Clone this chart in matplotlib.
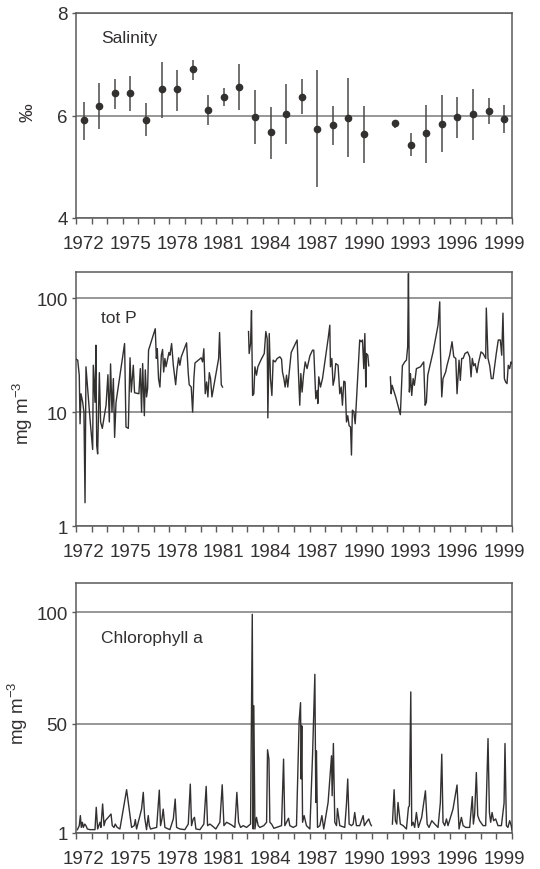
import numpy as np
import matplotlib
matplotlib.use("Agg")
import matplotlib.pyplot as plt
from matplotlib.ticker import FixedLocator, NullFormatter, FixedFormatter, NullLocator

plt.rcParams['font.family'] = ['Liberation Sans', 'DejaVu Sans']
plt.rcParams['mathtext.fontset'] = 'custom'
plt.rcParams['mathtext.rm'] = 'Liberation Sans'
plt.rcParams['mathtext.it'] = 'Liberation Sans'
plt.rcParams['mathtext.bf'] = 'Liberation Sans'

# ---------------- data ----------------
sal_years = [1972, 1973, 1974, 1975, 1976, 1977, 1978, 1979, 1980, 1981, 1982, 1983, 1984, 1985,
             1986, 1987, 1988, 1989, 1990, 1992, 1993, 1994, 1995, 1996, 1997, 1998, 1999]
sal_mean = [5.92, 6.19, 6.43, 6.43, 5.92, 6.51, 6.51, 6.90, 6.11, 6.37, 6.56, 5.97, 5.68, 6.03,
            6.37, 5.73, 5.82, 5.96, 5.64, 5.85, 5.43, 5.66, 5.84, 5.97, 6.03, 6.09, 5.94]
sal_high = [6.27, 6.64, 6.71, 6.77, 6.24, 7.04, 6.89, 7.08, 6.40, 6.53, 7.00, 6.50, 6.17, 6.62,
            6.71, 6.89, 6.19, 6.73, 6.19, 5.92, 5.66, 6.21, 6.40, 6.36, 6.52, 6.34, 6.21]
sal_low = [5.53, 5.73, 6.13, 6.08, 5.60, 5.96, 6.08, 6.69, 5.81, 6.19, 6.10, 5.45, 5.16, 5.45,
           6.03, 4.60, 5.42, 5.19, 5.07, 5.75, 5.21, 5.08, 5.29, 5.57, 5.53, 5.84, 5.65]

nan = np.nan
totp_time = [
    1972.00, 1972.11, 1972.21, 1972.26, 1972.32, 1972.43, 1972.51, 1972.58, 1972.64, 1972.75,
    1972.90, 1973.07, 1973.11, 1973.22, 1973.28, 1973.33, 1973.39, 1973.50, 1973.58, 1973.69,
    1973.93, 1974.05, 1974.14, 1974.22, 1974.31, 1974.40, 1974.48, 1974.57, 1975.12, 1975.21,
    1975.36, 1975.47, 1975.55, 1975.68, 1975.76, 1976.04, 1976.13, 1976.21, 1976.28, 1976.39,
    1976.45, 1976.53, 1976.60, 1976.66, 1977.09, 1977.16, 1977.22, 1977.30, 1977.39, 1977.48,
    1977.56, 1977.63, 1977.71, 1977.78, 1977.97, 1978.03, 1978.14, 1978.25, 1978.40, 1978.48,
    1978.59, 1978.67, 1978.76, 1978.84, 1979.10, 1979.21, 1979.27, 1979.40, 1979.49, 1979.57,
    1979.64, 1979.91, 1980.04, 1980.13, 1980.21, 1980.30, 1980.39, 1980.47, 1980.56, 1980.64,
    1980.73, 1981.16, 1981.22, 1981.33, 1981.41, 1982.00,
    1983.08, 1983.12, 1983.21, 1983.27, 1983.34, 1983.42, 1983.49, 1983.59, 1983.68, 1983.87,
    1984.09, 1984.19, 1984.28, 1984.32, 1984.41, 1984.49, 1984.58, 1984.66, 1984.79, 1984.92,
    1985.09, 1985.20, 1985.26, 1985.35, 1985.43, 1985.52, 1985.60, 1985.82, 1986.20, 1986.27,
    1986.37, 1986.44, 1986.52, 1986.61, 1986.72, 1986.84, 1987.02, 1987.19, 1987.27, 1987.32,
    1987.40, 1987.49, 1987.53, 1987.59, 1987.70, 1987.83, 1988.19, 1988.30, 1988.34, 1988.43,
    1988.51, 1988.60, 1988.68, 1988.83, 1988.94, 1989.03, 1989.11, 1989.20, 1989.28, 1989.37,
    1989.45, 1989.54, 1989.63, 1989.69, 1989.75, 1989.84, 1989.93, 1990.22, 1990.31, 1990.40,
    1990.48, 1990.55, 1990.61, 1990.65, 1990.74, 1990.80, 1991.50,
    1992.19, 1992.24, 1992.30, 1992.53, 1992.83, 1992.96, 1993.11, 1993.22, 1993.30, 1993.35,
    1993.41, 1993.48, 1993.56, 1993.65, 1993.73, 1993.86, 1994.12, 1994.33, 1994.42, 1994.50,
    1994.59, 1994.93, 1995.25, 1995.36, 1995.40, 1995.49, 1995.57, 1995.74, 1995.83, 1996.00,
    1996.15, 1996.26, 1996.39, 1996.47, 1996.60, 1996.68, 1996.77, 1996.86, 1996.98, 1997.15,
    1997.28, 1997.37, 1997.45, 1997.54, 1997.63, 1997.75, 1997.84, 1998.01, 1998.14, 1998.31,
    1998.35, 1998.46, 1998.57, 1998.67, 1998.78, 1998.99, 1999.12, 1999.25, 1999.34, 1999.42,
    1999.51, 1999.59, 1999.68, 1999.76, 1999.85, 1999.94, 2000.00]
totp_value = [
    29.2, 28.6, 21.1, 7.9, 14.5, 12.2, 10.0, 1.6, 25.0, 16.1,
    8.7, 4.7, 25.8, 12.2, 38.7, 5.1, 4.3, 22.2, 8.2, 7.2,
    11.5, 21.3, 8.2, 26.5, 10.0, 19.7, 6.0, 12.2, 40.0, 7.4,
    7.2, 30.0, 15.0, 25.8, 14.8, 14.5, 24.1, 10.0, 26.7, 9.3,
    23.5, 13.6, 16.1, 35.0, 54.0, 29.6, 36.0, 19.7, 16.6, 31.6,
    35.5, 22.5, 29.6, 25.0, 33.4, 31.6, 40.0, 25.8, 17.4, 23.3,
    30.0, 25.8, 30.6, 32.7, 40.6, 21.8, 17.4, 16.6, 10.0, 19.7,
    27.0, 29.0, 30.0, 27.6, 36.0, 14.5, 18.4, 13.6, 22.2, 19.7,
    13.6, 29.6, 50.0, 17.4, 16.6, nan,
    51.0, 32.7, 40.0, 78.0, 14.0, 14.5, 25.0, 21.1, 25.0, 28.6,
    32.7, 51.0, 44.0, 8.9, 49.0, 19.7, 14.0, 28.6, 27.6, 29.6,
    30.6, 29.2, 22.5, 19.7, 16.6, 21.1, 16.6, 33.4, 43.0, 25.0,
    11.5, 21.8, 15.0, 21.1, 27.6, 24.1, 31.2, 35.0, 35.0, 24.1,
    13.1, 15.5, 11.9, 20.4, 16.6, 19.7, 44.0, 58.0, 25.0, 29.6,
    17.2, 19.7, 26.7, 25.8, 14.5, 16.6, 11.5, 18.7, 18.4, 8.2,
    9.3, 7.6, 7.4, 4.2, 10.4, 10.1, 7.9, 43.0, 41.5, 43.0,
    24.1, 49.0, 16.6, 32.7, 31.6, 25.5, nan,
    20.4, 14.5, 17.2, 13.6, 9.5, 25.5, 27.6, 28.6, 37.5, 165.0,
    15.0, 21.8, 14.0, 19.7, 17.2, 24.1, 25.0, 27.6, 11.5, 12.2,
    21.1, 33.8, 58.0, 93.0, 36.0, 13.6, 19.7, 22.5, 25.8, 31.6,
    41.5, 30.6, 29.6, 14.5, 28.6, 19.0, 29.6, 29.6, 32.7, 33.8,
    30.6, 20.4, 29.6, 25.5, 26.7, 22.2, 26.7, 33.8, 32.7, 29.6,
    82.0, 29.6, 25.5, 19.7, 19.7, 32.7, 43.0, 43.0, 31.6, 74.0,
    19.7, 18.4, 17.8, 25.8, 24.1, 27.6, 26.7]

chl_time = [
    1972.09, 1972.21, 1972.28, 1972.34, 1972.41, 1972.47, 1972.56, 1972.64, 1972.73, 1972.90,
    1973.22, 1973.30, 1973.39, 1973.54, 1973.60, 1973.71, 1973.80, 1973.88, 1974.07, 1974.25,
    1974.33, 1974.44, 1974.52, 1974.65, 1974.82, 1975.25, 1975.57, 1975.74, 1975.81, 1975.89,
    1976.21, 1976.32, 1976.41, 1976.53, 1976.64, 1976.71, 1976.79, 1977.18, 1977.35, 1977.43,
    1977.52, 1977.60, 1977.71, 1978.03, 1978.25, 1978.37, 1978.46, 1978.67, 1978.99, 1979.21,
    1979.34, 1979.42, 1979.53, 1979.61, 1979.70, 1979.96, 1980.21, 1980.36, 1980.45, 1980.60,
    1980.73, 1980.98, 1981.24, 1981.39, 1981.50, 1981.67, 1981.99, 1982.20, 1982.33, 1982.44,
    1982.57, 1982.74, 1982.95, 1983.21, 1983.32, 1983.38, 1983.42, 1983.49, 1983.59, 1983.70,
    1983.81, 1984.06, 1984.24, 1984.30, 1984.39, 1984.45, 1984.56, 1984.71, 1984.88, 1985.20,
    1985.33, 1985.41, 1985.52, 1985.65, 1985.73, 1985.95, 1986.16, 1986.33, 1986.42, 1986.46,
    1986.50, 1986.55, 1986.65, 1986.80, 1987.02, 1987.19, 1987.34, 1987.40, 1987.44, 1987.51,
    1987.66, 1987.79, 1987.91, 1988.19, 1988.41, 1988.45, 1988.53, 1988.62, 1988.73, 1988.79,
    1988.94, 1989.26, 1989.37, 1989.45, 1989.54, 1989.69, 1989.80, 1989.90, 1990.01, 1990.22,
    1990.44, 1990.52, 1990.65, 1990.80, 1990.91, 1990.97, 1991.60,
    1992.32, 1992.43, 1992.51, 1992.60, 1992.68, 1992.77, 1992.83, 1993.01, 1993.22, 1993.35,
    1993.41, 1993.50, 1993.56, 1993.65, 1993.75, 1993.86, 1993.99, 1994.20, 1994.44, 1994.55,
    1994.67, 1994.85, 1995.04, 1995.25, 1995.40, 1995.49, 1995.57, 1995.68, 1995.79, 1995.89,
    1996.21, 1996.47, 1996.60, 1996.75, 1996.86, 1997.03, 1997.28, 1997.45, 1997.52, 1997.60,
    1997.71, 1997.80, 1997.92, 1998.14, 1998.31, 1998.46, 1998.55, 1998.63, 1998.72, 1998.82,
    1998.95, 1999.10, 1999.32, 1999.49, 1999.55, 1999.64, 1999.74, 1999.85, 1999.94, 2000.00]
chl_value = [
    2.5, 4.3, 8.8, 3.5, 5.8, 3.5, 5.0, 4.3, 2.8, 2.5,
    2.5, 12.5, 2.8, 5.8, 3.5, 14.0, 4.3, 6.5, 8.0, 9.5,
    4.3, 3.5, 5.0, 3.5, 2.8, 20.4, 3.5, 4.3, 7.0, 2.8,
    11.7, 19.2, 8.0, 2.5, 8.8, 4.3, 2.8, 3.5, 20.2, 4.3,
    7.3, 11.7, 3.5, 2.5, 7.3, 16.2, 3.5, 2.8, 2.5, 5.0,
    22.9, 4.3, 7.3, 8.0, 2.8, 2.5, 5.0, 21.9, 4.3, 5.0,
    4.3, 2.8, 5.8, 22.6, 4.3, 5.8, 4.6, 3.5, 19.2, 5.8,
    3.5, 4.3, 3.5, 5.0, 99.0, 2.8, 58.0, 2.8, 8.0, 4.3,
    3.5, 4.3, 5.8, 38.3, 34.1, 5.8, 5.0, 3.1, 3.5, 4.3,
    34.1, 4.3, 5.8, 7.6, 4.3, 3.5, 4.3, 51.2, 59.4, 25.2,
    49.0, 5.8, 8.8, 4.3, 2.8, 35.6, 72.1, 14.7, 37.8, 3.5,
    4.3, 8.8, 2.8, 14.7, 35.6, 17.7, 41.1, 5.8, 4.3, 12.0,
    4.3, 3.5, 14.0, 25.2, 5.0, 4.3, 5.0, 10.2, 4.3, 4.3,
    8.8, 4.3, 5.8, 7.3, 5.0, 4.3, nan,
    5.0, 20.4, 6.5, 5.0, 14.7, 8.8, 5.0, 4.3, 2.8, 12.5,
    13.2, 64.2, 4.3, 5.8, 3.5, 10.2, 3.5, 8.0, 19.9, 5.0,
    3.5, 6.5, 5.0, 3.5, 14.7, 36.3, 5.8, 4.3, 7.3, 4.3,
    11.7, 22.5, 2.8, 8.0, 4.3, 3.5, 3.5, 17.3, 5.0, 9.5,
    28.1, 8.8, 6.5, 4.3, 4.3, 43.3, 10.2, 5.8, 10.2, 6.5,
    7.3, 4.3, 4.3, 14.4, 41.1, 4.3, 3.5, 6.5, 4.6, 2.5]

year_ticks = list(range(1972, 2001))
year_labels = ['1972', '1975', '1978', '1981', '1984', '1987', '1990', '1993', '1996', '1999']

# ---------------- style ----------------
DARK = '#333030'
SPINE = '#5a5a5a'
GRID = '#7a7a7a'
FS = 13.5

fig = plt.figure(figsize=(5.4, 8.7), dpi=100)
left, width = 76 / 540, 436 / 540
ax1 = fig.add_axes([left, 1 - 219 / 870, width, 205 / 870])
ax2 = fig.add_axes([left, 1 - 527 / 870, width, 254 / 870])
ax3 = fig.add_axes([left, 1 - 834 / 870, width, 250 / 870])


def style_x(ax):
    ax.set_xlim(1972, 2000)
    ax.xaxis.set_major_locator(FixedLocator(year_ticks))
    ax.xaxis.set_major_formatter(NullFormatter())
    ax.xaxis.set_minor_locator(FixedLocator([int(y) + 0.5 for y in year_labels]))
    ax.xaxis.set_minor_formatter(FixedFormatter(year_labels))
    ax.tick_params(axis='x', which='major', direction='out', length=4, width=1, color=SPINE)
    ax.tick_params(axis='x', which='minor', length=0, pad=12, labelsize=FS, labelcolor=DARK)
    ax.tick_params(axis='y', which='major', direction='out', length=3, width=1, color=SPINE,
                   labelsize=FS, labelcolor=DARK, pad=3)
    ax.tick_params(axis='y', which='minor', length=0)
    for s in ax.spines.values():
        s.set_color(SPINE)
        s.set_linewidth(1.1)
    ax.grid(True, axis='y', which='major', color=GRID, linewidth=1.1)
    ax.set_axisbelow(True)


# --- Salinity ---
x_sal = np.array(sal_years) + 0.5
mean = np.array(sal_mean)
yerr = [mean - np.array(sal_low), np.array(sal_high) - mean]
ax1.errorbar(x_sal, mean, yerr=yerr, fmt='o', color=DARK, ecolor='#4a4a48', elinewidth=1.1,
             markersize=4.5, capsize=0, zorder=3)
ax1.set_ylim(4, 8)
ax1.set_yticks([4, 6, 8])
ax1.set_yticklabels(['4', '6', '8'])
style_x(ax1)
ax1.text(0.058, 0.88, 'Salinity', transform=ax1.transAxes, fontsize=12.5, color=DARK,
         ha='left', va='center')
fig.text(28 / 540, 1 - 113 / 870, '‰', rotation=90, fontsize=FS, color=DARK,
         ha='center', va='center')

# --- tot P ---
ax2.plot(totp_time, totp_value, color=DARK, linewidth=1.0, zorder=3)
ax2.set_yscale('log')
ax2.set_ylim(1, 170)
ax2.yaxis.set_major_locator(FixedLocator([1, 10, 100]))
ax2.yaxis.set_major_formatter(FixedFormatter(['1', '10', '100']))
ax2.yaxis.set_minor_locator(NullLocator())
style_x(ax2)
ax2.text(0.058, 0.82, 'tot P', transform=ax2.transAxes, fontsize=12.5, color=DARK,
         ha='left', va='center')
fig.text(23 / 540, 1 - 413 / 870, 'mg m$^{-3}$', rotation=90, fontsize=FS, color=DARK,
         ha='center', va='center')

# --- Chlorophyll a ---
ax3.plot(chl_time, chl_value, color=DARK, linewidth=1.0, zorder=3)
ax3.set_ylim(1, 113)
ax3.set_yticks([1, 50, 100])
ax3.set_yticklabels(['1', '50', '100'])
style_x(ax3)
ax3.text(0.058, 0.78, 'Chlorophyll a', transform=ax3.transAxes, fontsize=12.5, color=DARK,
         ha='left', va='center')
fig.text(18 / 540, 1 - 713 / 870, 'mg m$^{-3}$', rotation=90, fontsize=FS, color=DARK,
         ha='center', va='center')

fig.savefig('out.png', dpi=100)
